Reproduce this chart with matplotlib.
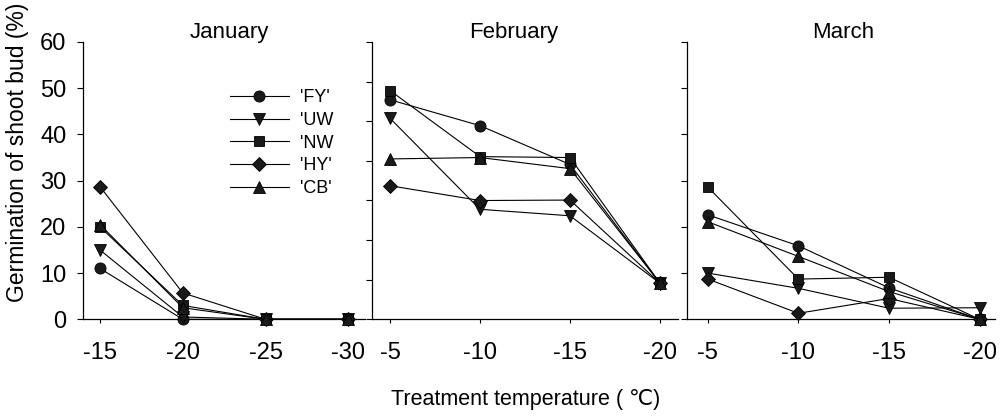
import numpy as np
import matplotlib.pyplot as plt
from matplotlib.lines import Line2D

plt.rcParams['font.family'] = ['Liberation Sans', 'DejaVu Sans']

# ---------------- data ----------------
cultivars = ["'FY'", "'UW", "'NW", "'HY'", "'CB'"]
markers = ['o', 'v', 's', 'D', '^']

months = ['January', 'February', 'March']
temps = {
    'January': [-15, -20, -25, -30],
    'February': [-5, -10, -15, -20],
    'March': [-5, -10, -15, -20],
}

jan_fy = [11.0, 0.0, 0.0, 0.0]
jan_uw = [15.0, 0.5, 0.0, 0.0]
jan_nw = [20.0, 3.0, 0.0, 0.0]
jan_hy = [28.7, 5.7, 0.0, 0.0]
jan_cb = [20.5, 2.5, 0.0, 0.0]

feb_fy = [47.5, 41.9, 33.5, 7.8]
feb_uw = [43.5, 23.8, 22.4, 7.8]
feb_nw = [49.5, 35.2, 35.0, 7.8]
feb_hy = [28.9, 25.7, 25.8, 7.8]
feb_cb = [34.7, 35.0, 32.6, 7.8]

mar_fy = [22.6, 15.9, 6.8, 0.0]
mar_uw = [10.0, 6.7, 2.4, 2.5]
mar_nw = [28.6, 8.7, 9.1, 0.0]
mar_hy = [8.7, 1.3, 4.5, 0.0]
mar_cb = [21.1, 13.6, 6.0, 0.0]

series = {
    'January': [jan_fy, jan_uw, jan_nw, jan_hy, jan_cb],
    'February': [feb_fy, feb_uw, feb_nw, feb_hy, feb_cb],
    'March': [mar_fy, mar_uw, mar_nw, mar_hy, mar_cb],
}

# ---------------- layout ----------------
W, H = 1002, 417
fig = plt.figure(figsize=(W / 100, H / 100), dpi=100)

# left px, width px, xlim, title x (axes frac)
panels = [
    (83, 282, (-0.205, 3.2), 0.52),
    (372, 306, (-0.2, 3.2), 0.464),
    (687, 308, (-0.23, 3.17), 0.506),
]
bottom_px, top_px = 319.3, 42.0


def marker_size(m):
    if m == 'D':
        return 7.5
    if m == 's':
        return 7
    return 8


axes = []
for i, (month, (lpx, wpx, xl, tx)) in enumerate(zip(months, panels)):
    ax = fig.add_axes([lpx / W, 1 - bottom_px / H, wpx / W, (bottom_px - top_px) / H])
    axes.append(ax)
    x = np.arange(len(temps[month]))
    for vals, m in zip(series[month], markers):
        ax.plot(x, vals, color='black', lw=0.8, marker=m, ms=marker_size(m),
                mfc='#1a1a1a', mec='black', mew=0.6, clip_on=False, zorder=3)
    ax.set_xlim(*xl)
    ax.set_ylim(0, 60)
    ax.set_xticks(x)
    ax.set_xticklabels([str(t) for t in temps[month]])
    for s in ('top', 'right'):
        ax.spines[s].set_visible(False)
    for s in ('left', 'bottom'):
        ax.spines[s].set_linewidth(0.9)
    ax.tick_params(axis='x', direction='out', length=3, width=0.8, pad=13, labelsize=17)
    ax.tick_params(axis='y', direction='out', length=4, width=0.8, pad=8, labelsize=17)
    if i == 1:
        ax.set_yticks(np.linspace(0, 60, 8))
    else:
        ax.set_yticks(np.arange(0, 61, 10))
    if i > 0:
        ax.set_yticklabels([])
    ax.text(tx, 1.014, month, transform=ax.transAxes, ha='center', va='baseline',
            fontsize=16)

# legend in the first panel
handles = [Line2D([], [], color='black', lw=0.8, marker=m, ms=marker_size(m),
                  mfc='#1a1a1a', mec='black', mew=0.6) for m in markers]
axes[0].legend(handles, cultivars, loc='upper left', bbox_to_anchor=(0.52, 0.83),
               frameon=False, fontsize=13, handlelength=3.3, handletextpad=0.6,
               labelspacing=0.32, borderpad=0, borderaxespad=0)

fig.text(18 / W, 1 - 152 / H, 'Germination of shoot bud (%)', rotation=90,
         ha='center', va='center', fontsize=16.5)
fig.text(526 / W, 1 - 399 / H, 'Treatment temperature ( \u2103)', ha='center',
         va='center', fontsize=15.5)

fig.savefig('out.png', dpi=100)
